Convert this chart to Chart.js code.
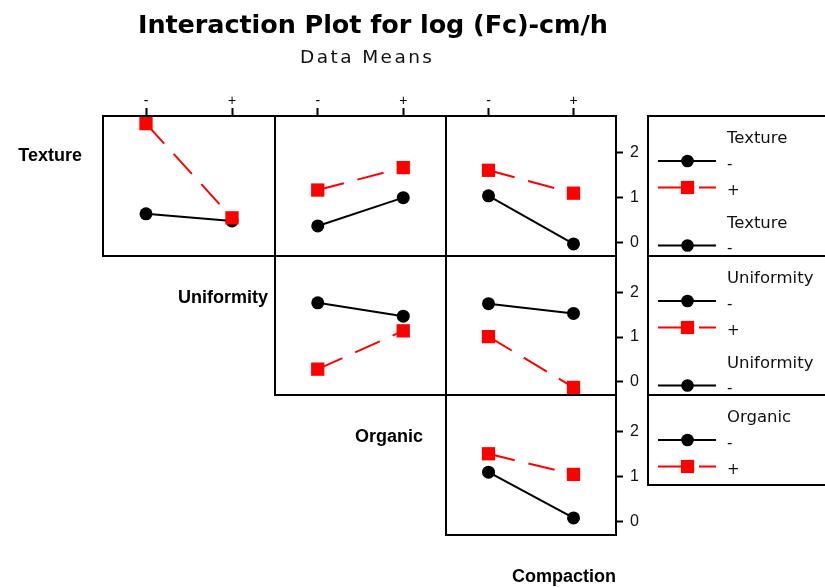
<!DOCTYPE html>
<html>
<head>
<meta charset="utf-8">
<title>Interaction Plot for log (Fc)-cm/h</title>
<script src="https://cdn.jsdelivr.net/npm/chart.js@4.4.1/dist/chart.umd.min.js"></script>
<style>
  html, body { margin: 0; padding: 0; background: #fff; }
  #fig { position: relative; width: 825px; height: 588px; overflow: hidden; background: #fff; }
  #fig canvas { position: absolute; }
  #overlay { position: absolute; left: 0; top: 0; pointer-events: none; }
</style>
</head>
<body>
<div id="fig">
  <svg id="overlay" width="825" height="588" xmlns="http://www.w3.org/2000/svg"></svg>
</div>
<script>
// ---- data ----------------------------------------------------------------
const titleText = 'Interaction Plot for log (Fc)-cm/h';
const subtitleText = 'Data Means';
const factors = ['Texture', 'Uniformity', 'Organic', 'Compaction'];
const levels = ['-', '+'];
const yTickValues = [0, 1, 2];

// log(Fc) means of the row factor at '-' and '+', over the two levels of the column factor
const textureUniformityMinus = [0.64, 0.48];
const textureUniformityPlus  = [2.65, 0.55];
const textureOrganicMinus    = [0.37, 1.00];
const textureOrganicPlus     = [1.17, 1.67];
const textureCompactionMinus = [1.04, -0.03];
const textureCompactionPlus  = [1.61, 1.10];
const uniformityOrganicMinus    = [1.77, 1.47];
const uniformityOrganicPlus     = [0.28, 1.14];
const uniformityCompactionMinus = [1.75, 1.53];
const uniformityCompactionPlus  = [1.01, -0.13];
const organicCompactionMinus = [1.10, 0.08];
const organicCompactionPlus  = [1.51, 1.05];

// ---- layout --------------------------------------------------------------
const colEdges = [103, 275, 446, 616];
const rowEdges = [116, 256, 395, 535];
const PAD = 10, TOP_AXIS_H = 30, RIGHT_AXIS_W = 34;
const Y_MIN = -0.3, Y_MAX = 2.82;

const panels = [
  { row: 0, col: 0, minus: textureUniformityMinus,    plus: textureUniformityPlus },
  { row: 0, col: 1, minus: textureOrganicMinus,       plus: textureOrganicPlus },
  { row: 0, col: 2, minus: textureCompactionMinus,    plus: textureCompactionPlus },
  { row: 1, col: 1, minus: uniformityOrganicMinus,    plus: uniformityOrganicPlus },
  { row: 1, col: 2, minus: uniformityCompactionMinus, plus: uniformityCompactionPlus },
  { row: 2, col: 2, minus: organicCompactionMinus,    plus: organicCompactionPlus }
];

const RED = '#ff0000', BLACK = '#000000';
const fig = document.getElementById('fig');

// outline of each panel's plotting area
const framePlugin = {
  id: 'panelFrame',
  beforeDatasetsDraw(chart) {
    const { ctx, chartArea: a } = chart;
    ctx.save();
    ctx.strokeStyle = BLACK;
    ctx.lineWidth = 2;
    ctx.strokeRect(a.left, a.top, a.right - a.left, a.bottom - a.top);
    ctx.restore();
  }
};

function toPoints(values) {
  return values.map((v, i) => ({ x: i, y: v }));
}

function makePanel(p) {
  const left = colEdges[p.col], right = colEdges[p.col + 1];
  const top = rowEdges[p.row], bottom = rowEdges[p.row + 1];
  const showTop = p.row === 0;
  const showRight = p.col === 2;
  const w = (right - left) + 2 * PAD + (showRight ? RIGHT_AXIS_W : 0);
  const h = (bottom - top) + 2 * PAD + (showTop ? TOP_AXIS_H : 0);

  const cv = document.createElement('canvas');
  cv.width = w; cv.height = h;
  cv.style.width = w + 'px'; cv.style.height = h + 'px';
  cv.style.left = (left - PAD) + 'px';
  cv.style.top = (top - PAD - (showTop ? TOP_AXIS_H : 0)) + 'px';
  fig.appendChild(cv);

  const rowFactor = factors[p.row];
  new Chart(cv, {
    type: 'line',
    data: {
      datasets: [
        {
          label: rowFactor + ' ' + levels[1],
          data: toPoints(p.plus),
          borderColor: RED, backgroundColor: RED,
          borderWidth: 2, borderDash: [27, 14],
          pointStyle: 'rect', pointRadius: 9.4, pointBorderWidth: 0,
          pointBackgroundColor: RED,
          tension: 0, clip: false, order: 0
        },
        {
          label: rowFactor + ' ' + levels[0],
          data: toPoints(p.minus),
          borderColor: BLACK, backgroundColor: BLACK,
          borderWidth: 2,
          pointStyle: 'circle', pointRadius: 6.5, pointBorderWidth: 0,
          pointBackgroundColor: BLACK,
          tension: 0, clip: false, order: 1
        }
      ]
    },
    options: {
      responsive: false,
      animation: false,
      events: [],
      layout: { padding: { left: PAD, right: PAD, top: PAD, bottom: PAD } },
      plugins: { legend: { display: false }, tooltip: { enabled: false } },
      scales: {
        x: {
          type: 'linear', position: 'top', min: -0.5, max: 1.5,
          display: showTop,
          afterBuildTicks: s => { s.ticks = levels.map((_, i) => ({ value: i })); },
          afterFit: s => {
            if (showTop) s.height = TOP_AXIS_H;
            s.paddingLeft = 0; s.paddingRight = 0;
          },
          ticks: {
            callback: v => levels[v],
            color: BLACK, padding: -2, autoSkip: false, maxRotation: 0,
            font: { family: 'Liberation Sans, Arial, sans-serif', size: 14 }
          },
          grid: { drawOnChartArea: false, drawTicks: true, tickLength: 8, tickWidth: 2, tickColor: BLACK },
          border: { display: false }
        },
        y: {
          type: 'linear', position: 'right', min: Y_MIN, max: Y_MAX,
          display: showRight,
          afterBuildTicks: s => { s.ticks = yTickValues.map(v => ({ value: v })); },
          afterFit: s => {
            if (showRight) s.width = RIGHT_AXIS_W;
            s.paddingTop = 0; s.paddingBottom = 0;
          },
          ticks: {
            color: '#111', padding: 7,
            font: { family: 'Liberation Sans, Arial, sans-serif', size: 16 }
          },
          grid: { drawOnChartArea: false, drawTicks: true, tickLength: 7, tickWidth: 2, tickColor: BLACK },
          border: { display: false }
        }
      }
    },
    plugins: [framePlugin]
  });
}

panels.forEach(makePanel);

// ---- titles, factor names and legends ------------------------------------
const SVG_NS = 'http://www.w3.org/2000/svg';
const overlay = document.getElementById('overlay');
fig.appendChild(overlay);   // keep text layer above the plots

function svgEl(tag, attrs, parent, text) {
  const el = document.createElementNS(SVG_NS, tag);
  for (const k in attrs) el.setAttribute(k, attrs[k]);
  if (text != null) el.textContent = text;
  (parent || overlay).appendChild(el);
  return el;
}

svgEl('text', {
  x: 373, y: 33, 'text-anchor': 'middle', 'font-family': 'DejaVu Sans, sans-serif',
  'font-weight': 'bold', 'font-size': 25.5, fill: BLACK, textLength: 470, lengthAdjust: 'spacing'
}, null, titleText);
svgEl('text', {
  x: 366, y: 63, 'text-anchor': 'middle', 'font-family': 'DejaVu Sans, sans-serif',
  'font-size': 18.5, fill: '#111', textLength: 132, lengthAdjust: 'spacing'
}, null, subtitleText);

// factor names along the diagonal
const factorLabelPos = [[82, 161], [268, 303], [423, 442], [616, 582]];
factors.forEach((f, i) => {
  svgEl('text', {
    x: factorLabelPos[i][0], y: factorLabelPos[i][1], 'text-anchor': 'end',
    'font-family': 'Liberation Sans, Arial, sans-serif', 'font-weight': 'bold',
    'font-size': 18, fill: BLACK
  }, null, f);
});

// legend boxes, one per row factor
const legendBoxes = [
  { factor: factors[0], top: 116, bottom: 256, repeat: true },
  { factor: factors[1], top: 256, bottom: 395, repeat: true },
  { factor: factors[2], top: 395, bottom: 485, repeat: false }
];
const LEG_LEFT = 648, LINE_X1 = 658, LINE_X2 = 716, MARK_X = 687.5, TEXT_X = 727;
const legendFont = 'DejaVu Sans, sans-serif';

function legendTitle(g, y, text) {
  svgEl('text', { x: TEXT_X, y: y, 'font-family': legendFont, 'font-size': 16.5, fill: '#111' }, g, text);
}
function legendItem(g, y, levelIndex) {
  if (levelIndex === 0) {
    svgEl('line', { x1: LINE_X1, y1: y, x2: LINE_X2, y2: y, stroke: BLACK, 'stroke-width': 2 }, g);
    svgEl('circle', { cx: MARK_X, cy: y, r: 6.3, fill: BLACK }, g);
  } else {
    svgEl('line', { x1: LINE_X1, y1: y, x2: LINE_X2, y2: y, stroke: RED, 'stroke-width': 2,
      'stroke-dasharray': '23 18 20' }, g);
    svgEl('rect', { x: MARK_X - 6.6, y: y - 6.6, width: 13.2, height: 13.2, fill: RED }, g);
  }
  svgEl('text', { x: TEXT_X, y: y + 7.5, 'font-family': legendFont, 'font-size': 15, fill: '#111' },
    g, levels[levelIndex]);
}

legendBoxes.forEach((b, i) => {
  const clipId = 'legclip' + i;
  const defs = svgEl('defs', {});
  const cp = svgEl('clipPath', { id: clipId }, defs);
  svgEl('rect', { x: LEG_LEFT + 1, y: b.top + 1, width: 300, height: b.bottom - b.top - 2 }, cp);
  const g = svgEl('g', { 'clip-path': 'url(#' + clipId + ')' });
  const T = b.top;
  legendTitle(g, T + 26.5, b.factor);
  legendItem(g, T + 45, 0);
  legendItem(g, T + 71.5, 1);
  if (b.repeat) {
    legendTitle(g, T + 112, b.factor);
    legendItem(g, T + 129.5, 0);
  }
  svgEl('rect', { x: LEG_LEFT, y: b.top, width: 300, height: b.bottom - b.top,
    fill: 'none', stroke: BLACK, 'stroke-width': 2 });
});
</script>
</body>
</html>
